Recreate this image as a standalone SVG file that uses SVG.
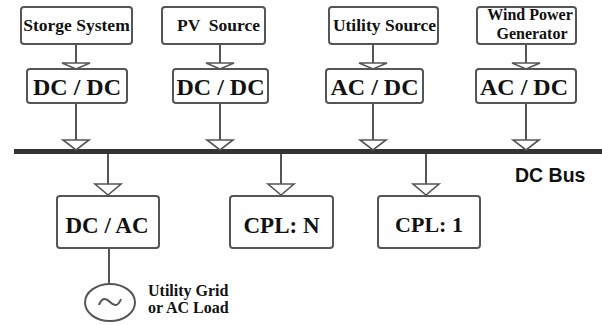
<svg xmlns="http://www.w3.org/2000/svg" width="602" height="325" viewBox="0 0 602 325">
<style>
.box{fill:#fff;stroke:#555;stroke-width:2}
.ln{stroke:#555;stroke-width:2;fill:none}
.ah{fill:#fff;stroke:#555;stroke-width:1.6;stroke-linejoin:miter}
.t{font-family:"Liberation Serif","Times New Roman",serif;font-weight:bold;fill:#111;text-anchor:middle}
.s{font-size:17.5px}
.w{font-size:16px}
.b{font-size:24px}
.c{font-size:23px}
.lbl{font-family:"Liberation Serif","Times New Roman",serif;font-weight:bold;fill:#111;font-size:16px}
</style>
<rect width="602" height="325" fill="#fff"/>
<g id="connectors">
<rect x="14" y="149" width="588" height="5" fill="#333"/>
<line class="ln" x1="76" y1="44" x2="76" y2="64"/>
<polygon class="ah" points="62,63 90,63 76,69"/>
<line class="ln" x1="76" y1="103" x2="76" y2="141"/>
<polygon class="ah" points="63,140 89,140 76,150"/>
<line class="ln" x1="220" y1="44" x2="220" y2="64"/>
<polygon class="ah" points="206,63 234,63 220,69"/>
<line class="ln" x1="220" y1="103" x2="220" y2="141"/>
<polygon class="ah" points="207,140 233,140 220,150"/>
<line class="ln" x1="373" y1="44" x2="373" y2="64"/>
<polygon class="ah" points="359,63 387,63 373,69"/>
<line class="ln" x1="373" y1="103" x2="373" y2="141"/>
<polygon class="ah" points="360,140 386,140 373,150"/>
<line class="ln" x1="526" y1="44" x2="526" y2="64"/>
<polygon class="ah" points="512,63 540,63 526,69"/>
<line class="ln" x1="526" y1="103" x2="526" y2="141"/>
<polygon class="ah" points="513,140 539,140 526,150"/>
<line class="ln" x1="108" y1="154" x2="108" y2="185"/>
<polygon class="ah" points="95,184 121,184 108,195"/>
<line class="ln" x1="281" y1="154" x2="281" y2="185"/>
<polygon class="ah" points="268,184 294,184 281,195"/>
<line class="ln" x1="426" y1="154" x2="426" y2="185"/>
<polygon class="ah" points="413,184 439,184 426,195"/>
<line class="ln" x1="109" y1="248" x2="109" y2="284"/>
</g>
<g id="storage"><rect class="box" x="21" y="7" width="111" height="37" rx="3"/><text class="t s" x="76.5" y="31">Storge System</text></g>
<g id="pv"><rect class="box" x="162" y="7" width="103" height="37" rx="3"/><text class="t s" x="218.5" y="31" style="white-space:pre">PV  Source</text></g>
<g id="utility"><rect class="box" x="329" y="7" width="109" height="37" rx="3"/><text class="t s" x="384.5" y="31">Utility Source</text></g>
<g id="wind"><rect class="box" x="477" y="7" width="99" height="37" rx="3"/><text class="t w" x="530" y="20">Wind Power</text><text class="t w" x="532" y="39">Generator</text></g>
<g id="dcdc1"><rect class="box" x="27" y="69" width="100" height="34" rx="3"/><text class="t b" x="77" y="95">DC / DC</text></g>
<g id="dcdc2"><rect class="box" x="173" y="69" width="95" height="34" rx="3"/><text class="t b" x="220.5" y="95">DC / DC</text></g>
<g id="acdc1"><rect class="box" x="326" y="69" width="97" height="34" rx="3"/><text class="t b" x="374.5" y="95">AC / DC</text></g>
<g id="acdc2"><rect class="box" x="476" y="69" width="100" height="34" rx="3"/><text class="t b" x="524" y="95">AC / DC</text></g>
<g id="dcbus"><text x="515" y="182" font-family="'Liberation Sans',Arial,sans-serif" font-weight="bold" font-size="19.5" fill="#111">DC Bus</text></g>
<g id="dcac"><rect class="box" x="57" y="196" width="102" height="52" rx="3"/><text class="t c" x="107" y="233">DC / AC</text></g>
<g id="cpln"><rect class="box" x="230" y="196" width="103" height="52" rx="3"/><text class="t c" x="281.5" y="233">CPL: N</text></g>
<g id="cpl1"><rect class="box" x="378" y="196" width="102" height="52" rx="3"/><text class="t" x="429" y="232" font-size="22">CPL: 1</text></g>
<g id="grid">
<ellipse class="ln" cx="110" cy="302.5" rx="25" ry="18.5"/>
<path class="ln" stroke-width="1.6" d="M99,305 C102,297 106,298 110,302 C114,306 118,307 121,299"/>
<text class="lbl" x="148" y="296">Utility Grid</text>
<text class="lbl" x="148" y="313">or AC Load</text>
</g>
</svg>
